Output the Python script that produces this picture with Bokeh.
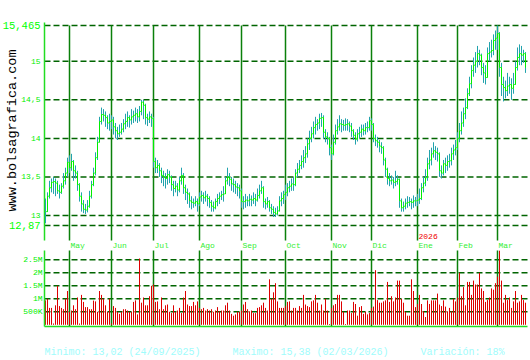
import math
from bokeh.plotting import figure
from bokeh.models import Range1d
from bokeh.core.properties import value
from bokeh.embed import file_html
from bokeh.resources import INLINE

# ---------------- data ----------------
months = ["May", "Jun", "Jul", "Ago", "Sep", "Oct", "Nov", "Dic", "Ene", "Feb", "Mar"]
month_idx = [12, 33, 54, 77, 98, 120, 143, 163, 186, 206, 226]
year_label = "2026"
year_idx = 186

close = [
    13.05, 13.25, 13.36, 13.43, 13.44, 13.42, 13.32, 13.30, 13.38, 13.45,
    13.55, 13.69, 13.62, 13.70, 13.58, 13.55, 13.40, 13.25, 13.15, 13.08,
    13.07, 13.12, 13.25, 13.40, 13.55, 13.75, 13.95, 14.22, 14.31, 14.30,
    14.27, 14.20, 14.22, 14.24, 14.15, 14.10, 14.06, 14.08, 14.12, 14.19,
    14.22, 14.27, 14.24, 14.28, 14.30, 14.32, 14.28, 14.35, 14.47, 14.43,
    14.27, 14.25, 14.28, 14.26, 13.70, 13.62, 13.65, 13.58, 13.52, 13.50,
    13.48, 13.53, 13.50, 13.40, 13.35, 13.38, 13.33, 13.45, 13.52, 13.36,
    13.30, 13.28, 13.19, 13.17, 13.16, 13.18, 13.15, 13.24, 13.26, 13.23,
    13.25, 13.22, 13.17, 13.12, 13.10, 13.18, 13.22, 13.25, 13.27, 13.28,
    13.45, 13.50, 13.47, 13.41, 13.40, 13.37, 13.36, 13.32, 13.18, 13.18,
    13.20, 13.19, 13.21, 13.20, 13.22, 13.20, 13.26, 13.32, 13.36, 13.18,
    13.15, 13.18, 13.10, 13.08, 13.04, 13.02, 13.06, 13.19, 13.22, 13.27,
    13.30, 13.36, 13.38, 13.41, 13.40, 13.55, 13.60, 13.65, 13.70, 13.75,
    13.80, 13.93, 14.00, 14.06, 14.14, 14.18, 14.20, 14.26, 14.27, 14.08,
    14.02, 14.00, 13.88, 13.80, 13.95, 14.10, 14.15, 14.19, 14.18, 14.17,
    14.18, 14.19, 14.16, 14.10, 14.04, 13.99, 14.06, 14.08, 14.12, 14.10,
    14.14, 14.14, 14.23, 14.18, 14.00, 13.97, 13.95, 13.90, 13.88, 13.72,
    13.60, 13.48, 13.45, 13.46, 13.43, 13.44, 13.47, 13.19, 13.10, 13.12,
    13.16, 13.17, 13.18, 13.17, 13.19, 13.19, 13.20, 13.22, 13.36, 13.42,
    13.49, 13.67, 13.72, 13.80, 13.84, 13.82, 13.80, 13.58, 13.55, 13.67,
    13.65, 13.70, 13.71, 13.80, 13.85, 13.88, 14.00, 14.10, 14.20, 14.32,
    14.40, 14.58, 14.71, 14.88, 14.95, 15.00, 15.10, 15.08, 14.92, 14.85,
    14.79, 15.10, 15.12, 15.14, 15.27, 15.30, 15.36, 14.92, 14.70, 14.66,
    14.62, 14.68, 14.70, 14.65, 14.70, 14.92, 15.05, 15.10, 15.08, 15.10,
    14.92,
]

high = [
    13.22, 13.30, 13.45, 13.48, 13.50, 13.48, 13.45, 13.40, 13.42, 13.55,
    13.62, 13.75, 13.78, 13.80, 13.72, 13.65, 13.58, 13.42, 13.30, 13.20,
    13.15, 13.20, 13.32, 13.45, 13.62, 13.82, 14.02, 14.28, 14.40, 14.38,
    14.35, 14.30, 14.32, 14.30, 14.28, 14.20, 14.15, 14.18, 14.20, 14.25,
    14.32, 14.35, 14.30, 14.38, 14.36, 14.40, 14.38, 14.42, 14.50, 14.50,
    14.45, 14.32, 14.35, 14.32, 14.28, 13.75, 13.72, 13.68, 13.62, 13.58,
    13.55, 13.60, 13.58, 13.52, 13.45, 13.45, 13.42, 13.50, 13.62, 13.55,
    13.40, 13.35, 13.30, 13.25, 13.22, 13.25, 13.22, 13.30, 13.32, 13.30,
    13.32, 13.28, 13.25, 13.20, 13.18, 13.22, 13.28, 13.30, 13.32, 13.38,
    13.50, 13.62, 13.55, 13.50, 13.48, 13.45, 13.42, 13.40, 13.35, 13.25,
    13.28, 13.25, 13.28, 13.26, 13.30, 13.28, 13.35, 13.40, 13.45, 13.38,
    13.22, 13.24, 13.20, 13.15, 13.12, 13.10, 13.12, 13.25, 13.30, 13.32,
    13.40, 13.42, 13.45, 13.48, 13.50, 13.60, 13.68, 13.72, 13.78, 13.85,
    13.90, 14.00, 14.10, 14.15, 14.22, 14.28, 14.25, 14.32, 14.33, 14.30,
    14.12, 14.08, 14.02, 13.92, 14.05, 14.18, 14.25, 14.30, 14.25, 14.24,
    14.26, 14.25, 14.22, 14.20, 14.12, 14.08, 14.12, 14.15, 14.18, 14.18,
    14.20, 14.22, 14.28, 14.26, 14.20, 14.05, 14.02, 13.98, 13.95, 13.90,
    13.75, 13.62, 13.55, 13.52, 13.50, 13.58, 13.52, 13.48, 13.22, 13.18,
    13.22, 13.25, 13.24, 13.22, 13.26, 13.24, 13.28, 13.35, 13.42, 13.50,
    13.60, 13.75, 13.85, 13.88, 13.95, 13.90, 13.88, 13.82, 13.65, 13.72,
    13.75, 13.78, 13.80, 13.88, 13.92, 13.98, 14.08, 14.20, 14.35, 14.40,
    14.52, 14.65, 14.80, 14.95, 15.05, 15.12, 15.20, 15.15, 15.10, 14.98,
    14.95, 15.18, 15.25, 15.28, 15.35, 15.40, 15.465, 15.38, 14.98, 14.80,
    14.75, 14.85, 14.80, 14.78, 14.85, 15.00, 15.18, 15.22, 15.20, 15.15,
    15.12,
]

low = [
    12.90, 13.05, 13.22, 13.30, 13.28, 13.25, 13.28, 13.22, 13.28, 13.35,
    13.40, 13.50, 13.55, 13.58, 13.45, 13.48, 13.32, 13.18, 13.05, 13.03,
    13.02, 13.04, 13.10, 13.22, 13.38, 13.52, 13.72, 13.95, 14.18, 14.22,
    14.15, 14.12, 14.10, 14.12, 14.05, 14.00, 13.98, 14.02, 14.05, 14.08,
    14.12, 14.15, 14.14, 14.18, 14.20, 14.22, 14.20, 14.22, 14.30, 14.25,
    14.18, 14.16, 14.20, 14.15, 13.62, 13.55, 13.55, 13.50, 13.42, 13.38,
    13.35, 13.40, 13.42, 13.32, 13.25, 13.30, 13.25, 13.30, 13.40, 13.28,
    13.20, 13.15, 13.10, 13.08, 13.10, 13.12, 13.05, 13.12, 13.18, 13.15,
    13.18, 13.12, 13.10, 13.05, 13.05, 13.08, 13.12, 13.15, 13.20, 13.18,
    13.28, 13.40, 13.38, 13.32, 13.30, 13.28, 13.25, 13.22, 13.10, 13.08,
    13.10, 13.12, 13.12, 13.12, 13.15, 13.12, 13.18, 13.22, 13.28, 13.10,
    13.08, 13.10, 13.05, 13.02, 12.98, 12.98, 13.00, 13.05, 13.12, 13.15,
    13.20, 13.25, 13.30, 13.32, 13.32, 13.38, 13.50, 13.55, 13.60, 13.62,
    13.68, 13.75, 13.85, 13.95, 14.00, 14.05, 14.10, 14.12, 14.15, 14.00,
    13.95, 13.92, 13.78, 13.72, 13.78, 13.92, 14.05, 14.10, 14.08, 14.10,
    14.10, 14.10, 14.08, 14.02, 13.98, 13.92, 13.96, 14.00, 14.02, 14.04,
    14.05, 14.08, 14.10, 14.10, 13.95, 13.90, 13.88, 13.82, 13.80, 13.65,
    13.50, 13.40, 13.38, 13.40, 13.35, 13.38, 13.40, 13.10, 13.05, 13.05,
    13.08, 13.10, 13.12, 13.08, 13.10, 13.12, 13.12, 13.15, 13.20, 13.30,
    13.38, 13.45, 13.60, 13.65, 13.75, 13.72, 13.70, 13.50, 13.48, 13.52,
    13.55, 13.58, 13.62, 13.65, 13.72, 13.78, 13.85, 13.95, 14.05, 14.15,
    14.25, 14.38, 14.55, 14.65, 14.80, 14.85, 14.92, 14.95, 14.82, 14.72,
    14.70, 14.80, 15.00, 15.05, 15.08, 15.15, 15.15, 14.80, 14.55, 14.48,
    14.52, 14.55, 14.58, 14.50, 14.58, 14.70, 14.88, 14.95, 14.95, 14.98,
    14.85,
]

# volume in millions of shares
volume_m = [
    0.94, 1.00, 0.65, 0.65, 0.05, 0.75, 1.50, 0.72, 0.65, 0.60,
    1.00, 1.30, 0.50, 0.55, 0.75, 0.60, 1.05, 0.05, 1.15, 0.88,
    0.68, 0.68, 0.60, 0.60, 0.93, 0.90, 0.50, 1.30, 1.15, 1.00,
    0.75, 0.50, 1.00, 0.05, 0.72, 0.65, 0.50, 0.42, 0.50, 0.60,
    0.60, 0.55, 0.50, 0.50, 0.88, 0.94, 0.40, 2.55, 0.85, 1.05,
    0.75, 0.75, 1.10, 1.50, 1.55, 0.88, 0.90, 0.60, 1.05, 0.60,
    0.75, 0.78, 0.50, 0.45, 0.75, 0.50, 0.55, 0.65, 0.45, 1.05,
    1.30, 0.78, 0.72, 0.72, 0.88, 0.75, 0.90, 0.65, 0.60, 0.65,
    0.55, 0.60, 0.55, 0.60, 0.50, 0.55, 0.68, 0.52, 0.55, 0.55,
    0.75, 0.85, 0.55, 0.42, 0.35, 0.40, 0.50, 0.50, 0.55, 0.78,
    0.88, 0.60, 0.52, 0.55, 0.45, 0.45, 0.65, 0.68, 0.75, 0.85,
    0.65, 0.55, 1.75, 1.00, 1.25, 1.60, 0.90, 0.65, 0.65, 0.65,
    0.72, 0.88, 0.90, 0.55, 0.65, 0.65, 0.55, 0.72, 0.65, 1.15,
    0.78, 0.72, 0.68, 0.90, 0.94, 1.15, 0.85, 0.55, 0.78, 0.55,
    1.00, 0.55, 0.03, 0.65, 0.75, 0.80, 1.15, 1.15, 0.90, 0.50,
    0.03, 0.55, 0.55, 0.45, 0.88, 0.80, 0.35, 0.68, 0.72, 0.42,
    0.50, 0.40, 0.45, 0.65, 0.70, 2.10, 0.95, 0.85, 0.85, 0.90,
    0.94, 1.65, 0.88, 1.10, 0.90, 1.05, 1.70, 1.70, 1.00, 0.85,
    0.50, 0.35, 0.35, 1.75, 1.30, 0.68, 0.80, 1.15, 0.80, 0.52,
    0.30, 0.94, 0.80, 0.94, 0.94, 0.94, 1.20, 0.78, 0.72, 0.94,
    0.70, 0.52, 0.65, 0.52, 1.00, 0.90, 1.05, 2.00, 1.10, 1.45,
    0.75, 1.65, 1.65, 1.15, 1.70, 1.55, 1.55, 2.00, 1.40, 1.30,
    0.88, 0.95, 1.05, 1.40, 1.35, 1.60, 1.85, 2.85, 1.70, 0.85,
    1.15, 0.95, 1.05, 0.65, 0.90, 1.30, 0.85, 0.90, 1.15, 0.95,
    0.85,
]

price_ticks = [13, 13.5, 14, 14.5, 15]
price_min = 12.87
price_max = 15.465
vol_ticks = [500000, 1000000, 1500000, 2000000, 2500000]
vol_tick_labels = ["500K", "1M", "1.5M", "2M", "2.5M"]
stats = ["Minimo: 13,02 (24/09/2025)", "Maximo: 15,38 (02/03/2026)", "Variación: 18%"]
watermark = "www.bolsagrafica.com"

# ---------------- layout constants (pixels of the 530x360 page) ----------------
W, H = 530, 360
FRAME_L, FRAME_R = 44, 527            # left/right edge of both panels
P_TOP, P_MIN_Y, P_BOT = 25, 225, 240  # price panel: top (max), y of price_min, bottom
V_TOP, V_ZERO, V_BOT = 250, 324.3, 326
X0_PX, X_STEP = 45.0, 2.0             # pixel of first bar, pixels per trading day

MONO = value("Liberation Mono")
BRIGHT = "#00ee00"
AXIS = "#22dd22"
GRID_H = "#006400"
GRID_V = "#0a800a"
TEAL = "#22a3ad"
RED = "#dd0000"
CYAN = "#9ffcfc"

def xi(px):            # pixel -> x data (trading-day index)
    return (px - X0_PX) / X_STEP

PX = (P_MIN_Y - P_TOP) / (price_max - price_min)   # px per price unit
def py(px):            # pixel -> price
    return price_max - (px - P_TOP) / PX

VPX = 13.0 / 500000.0                               # px per share
def vy(px):            # pixel -> volume
    return (V_ZERO - px) / VPX

n = len(close)
idx = list(range(n))

p = figure(width=W, height=H, output_backend="svg", toolbar_location=None,
           x_range=Range1d(xi(0), xi(W)), y_range=Range1d(py(H), py(0)),
           x_axis_location=None, y_axis_location=None, min_border=0,
           background_fill_color="white", border_fill_color="white")
p.extra_y_ranges = {"vol": Range1d(vy(H), vy(0))}
p.outline_line_color = None
p.xgrid.visible = False
p.ygrid.visible = False

L, R = xi(FRAME_L), xi(FRAME_R)

# ---- price panel grid ----
hticks = [price_min] + price_ticks + [price_max]
p.segment(x0=[L] * len(hticks), x1=[R] * len(hticks), y0=hticks, y1=hticks,
          line_color=GRID_H, line_width=1.5, line_dash="6 3")
p.segment(x0=month_idx, x1=month_idx, y0=[py(P_BOT)] * len(month_idx),
          y1=[price_max] * len(month_idx), line_color=GRID_V, line_width=1.5)
p.segment(x0=[L], x1=[L], y0=[py(P_BOT)], y1=[py(P_TOP - 3)],
          line_color=AXIS, line_width=1.5)

# ---- price bars ----
prev = [close[0]] + close[:-1]
body_bottom = [min(a, b) for a, b in zip(prev, close)]
body_top = [max(a, b) for a, b in zip(prev, close)]
p.segment(x0=idx, y0=low, x1=idx, y1=high, line_color=TEAL, line_width=1)
p.step(idx, close, mode="after", line_color="#33ff33", line_width=1)
p.vbar(x=idx, bottom=body_bottom, top=body_top, width=0.5,
       fill_color=BRIGHT, line_color=None)

# ---- price tick labels ----
p.text(x=[L] * len(price_ticks), y=price_ticks,
       text=[str(t).replace(".", ",") for t in price_ticks],
       x_offset=-4, text_align="right", text_baseline="middle",
       text_color=BRIGHT, text_font=MONO, text_font_size="8px")
p.text(x=[L, L], y=[price_max, price_min],
       text=[str(v).replace(".", ",") for v in (price_max, price_min)],
       x_offset=-4, text_align="right", text_baseline="middle",
       text_color="#00ff00", text_font=MONO, text_font_size="10.5px")

# watermark
p.text(x=[xi(12)], y=[py(130)], text=[watermark], angle=math.pi / 2,
       text_align="center", text_baseline="middle", text_color="black",
       text_font=MONO, text_font_size="13.5px")

# month labels and year
p.text(x=month_idx, y=[py(244.5)] * len(month_idx), text=months, x_offset=1,
       text_align="left", text_baseline="middle", text_color="#33ee33",
       text_font=MONO, text_font_size="8px")
p.text(x=[year_idx], y=[py(236)], text=[year_label], x_offset=1,
       text_align="left", text_baseline="middle", text_color="#ee0000",
       text_font=MONO, text_font_size="8px")

# ---- volume panel ----
vol = [v * 1e6 for v in volume_m]
p.segment(x0=[L] * len(vol_ticks), x1=[R] * len(vol_ticks), y0=vol_ticks, y1=vol_ticks,
          line_color=GRID_H, line_width=1.5, line_dash="6 3", y_range_name="vol")
p.segment(x0=month_idx, x1=month_idx, y0=[vy(V_BOT)] * len(month_idx),
          y1=[vy(V_TOP)] * len(month_idx), line_color=GRID_V, line_width=1.5,
          y_range_name="vol")
p.segment(x0=idx, x1=idx, y0=[0] * n, y1=vol, line_color=RED, line_width=1,
          y_range_name="vol")
p.segment(x0=[L, L], x1=[L, R], y0=[vy(V_TOP), vy(V_BOT)], y1=[vy(V_BOT), vy(V_BOT)],
          line_color=AXIS, line_width=1.5, y_range_name="vol")
p.text(x=[L] * len(vol_ticks), y=vol_ticks, text=vol_tick_labels, x_offset=-2,
       text_align="right", text_baseline="middle", text_color=BRIGHT,
       text_font=MONO, text_font_size="8px", y_range_name="vol")

# ---- bottom statistics ----
p.text(x=[xi(44), xi(232), xi(420)], y=[vy(352)] * 3, text=stats,
       text_align="left", text_baseline="middle", text_color=CYAN,
       text_font=MONO, text_font_size="10px", y_range_name="vol")

open("out.html", "w").write(file_html(p, INLINE))
